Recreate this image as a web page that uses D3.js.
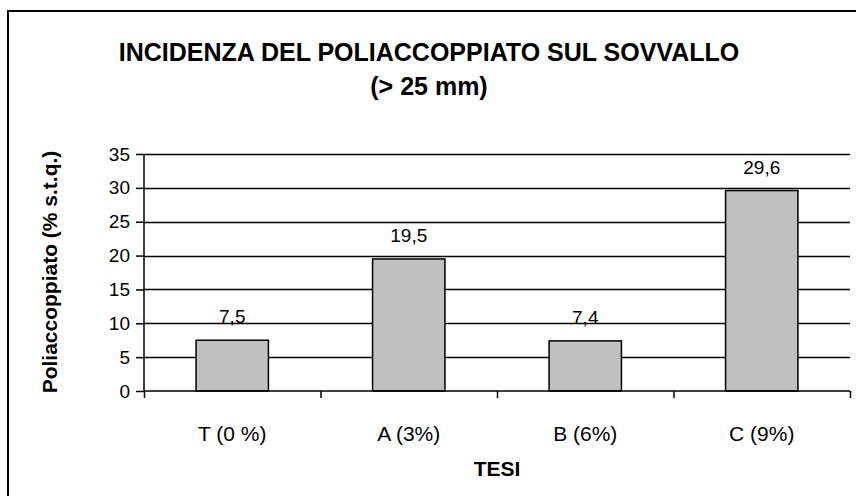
<!DOCTYPE html>
<html>
    <head>
        <script type="text/javascript" src="https://d3js.org/d3.v7.min.js" charset="utf-8"></script>
        <style>
            body { margin: 0; background: #fff; }
            text { font-family: Arial, "Liberation Sans", sans-serif; fill: #000; }
        </style>
    </head>
    <body>
        <script>
            const WIDTH = 856;
            const HEIGHT = 496;

            const PLOT_LEFT = 144;
            const PLOT_RIGHT = 850;
            const PLOT_TOP = 154;
            const PLOT_BOTTOM = 391;

            const BAR_COLOR = '#c0c0c0';
            const LINE_COLOR = 'black';

            // data
            const categories = ['T (0 %)', 'A (3%)', 'B (6%)', 'C (9%)'];
            const values = [7.5, 19.5, 7.4, 29.6];
            const valueLabels = ['7,5', '19,5', '7,4', '29,6'];
            const yTicks = [0, 5, 10, 15, 20, 25, 30, 35];
            const titleLines = ['INCIDENZA DEL POLIACCOPPIATO SUL SOVVALLO', '(> 25 mm)'];
            const xTitle = 'TESI';
            const yTitle = 'Poliaccoppiato (% s.t.q.)';

            let svg = d3.select('body')
            .append('svg')
            .attr('width', WIDTH)
            .attr('height', HEIGHT);

            // outer frame (cut off on the right and bottom like the picture)
            svg.append('rect')
            .attr('x', 8)
            .attr('y', 11)
            .attr('width', WIDTH + 10)
            .attr('height', HEIGHT + 10)
            .attr('fill', 'white')
            .attr('stroke', LINE_COLOR)
            .attr('stroke-width', 2);

            svg.append('g')
            .selectAll('text')
            .data(titleLines)
            .enter()
            .append('text')
            .attr('x', 429)
            .attr('y', function(d, i) { return 61 + i * 34; })
            .attr('text-anchor', 'middle')
            .style('font-size', '25px')
            .style('font-weight', 'bold')
            .text(function(d) { return d; });

            let xScale = d3.scaleBand()
            .domain(categories)
            .range([PLOT_LEFT, PLOT_RIGHT])
            .paddingInner(0.59)
            .paddingOuter(0.295);

            let xBoundary = d3.scaleLinear()
            .domain([0, categories.length])
            .range([PLOT_LEFT, PLOT_RIGHT]);

            let yScale = d3.scaleLinear()
            .domain([0, 35])
            .range([PLOT_BOTTOM, PLOT_TOP]);

            // gridlines
            svg.append('g')
            .selectAll('line')
            .data(yTicks.slice(1))
            .enter()
            .append('line')
            .attr('x1', PLOT_LEFT)
            .attr('x2', PLOT_RIGHT)
            .attr('y1', function(d) { return Math.round(yScale(d)) + 0.5; })
            .attr('y2', function(d) { return Math.round(yScale(d)) + 0.5; })
            .attr('stroke', LINE_COLOR)
            .attr('stroke-width', 1.5);

            // bars
            svg.append('g')
            .selectAll('rect')
            .data(values)
            .enter()
            .append('rect')
            .attr('x', function(d, i) { return xScale(categories[i]); })
            .attr('width', xScale.bandwidth())
            .attr('y', function(d) { return yScale(d); })
            .attr('height', function(d) { return yScale(0) - yScale(d); })
            .attr('fill', BAR_COLOR)
            .attr('stroke', LINE_COLOR)
            .attr('stroke-width', 1.5);

            // value labels
            svg.append('g')
            .selectAll('text')
            .data(values)
            .enter()
            .append('text')
            .attr('x', function(d, i) { return xScale(categories[i]) + xScale.bandwidth() / 2; })
            .attr('y', function(d) { return yScale(d) - 17; })
            .attr('text-anchor', 'middle')
            .style('font-size', '19px')
            .text(function(d, i) { return valueLabels[i]; });

            // y axis
            let yAxis = svg.append('g')
            .attr('transform', 'translate(' + PLOT_LEFT + ',0)')
            .call(d3.axisLeft(yScale).tickValues(yTicks).tickSize(8).tickPadding(6));
            yAxis.selectAll('path, line').attr('stroke', LINE_COLOR).attr('stroke-width', 1.5);
            yAxis.select('.domain').attr('d', 'M0,' + PLOT_TOP + 'V' + PLOT_BOTTOM);
            yAxis.selectAll('text')
            .style('font-family', 'Arial, "Liberation Sans", sans-serif')
            .style('font-size', '19px');

            // x axis: ticks at category boundaries, labels at band centres
            let xAxis = svg.append('g')
            .attr('transform', 'translate(0,' + PLOT_BOTTOM + ')')
            .call(d3.axisBottom(xBoundary).tickValues(d3.range(categories.length + 1)).tickSize(7).tickFormat(''));
            xAxis.selectAll('path, line').attr('stroke', LINE_COLOR).attr('stroke-width', 1.5);
            xAxis.select('.domain').attr('d', 'M' + PLOT_LEFT + ',0H' + PLOT_RIGHT);

            svg.append('g')
            .selectAll('text')
            .data(categories)
            .enter()
            .append('text')
            .attr('x', function(d) { return xScale(d) + xScale.bandwidth() / 2; })
            .attr('y', 441)
            .attr('text-anchor', 'middle')
            .style('font-size', '21px')
            .text(function(d) { return d; });

            svg.append('text')
            .attr('x', 497)
            .attr('y', 476)
            .attr('text-anchor', 'middle')
            .style('font-size', '21px')
            .style('font-weight', 'bold')
            .text(xTitle);

            svg.append('text')
            .attr('transform', 'translate(57,272) rotate(-90)')
            .attr('text-anchor', 'middle')
            .style('font-size', '21px')
            .style('font-weight', 'bold')
            .text(yTitle);
        </script>
    </body>
</html>
